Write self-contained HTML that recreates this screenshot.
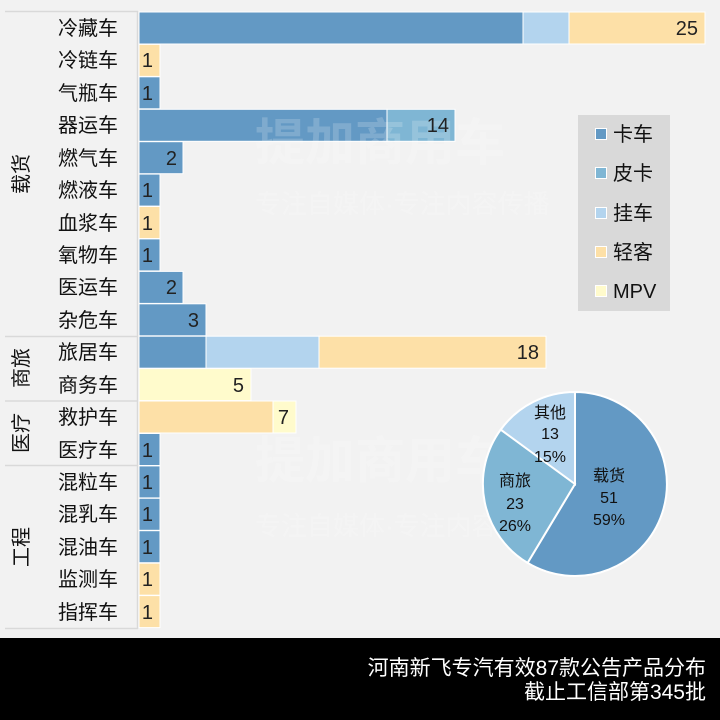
<!DOCTYPE html>
<html><head><meta charset="utf-8"><style>
html,body{margin:0;padding:0;background:#f2f2f2;}
svg{display:block;font-family:"Liberation Sans","Noto Sans CJK SC",sans-serif;}
</style></head><body>
<svg width="720" height="720" viewBox="0 0 720 720" xmlns="http://www.w3.org/2000/svg">
<rect width="720" height="720" fill="#f2f2f2"/>
<g stroke="#d9d9d9" stroke-width="1.5">
<line x1="5" y1="11.5" x2="138" y2="11.5"/>
<line x1="5" y1="336.5" x2="138" y2="336.5"/>
<line x1="5" y1="401" x2="138" y2="401"/>
<line x1="5" y1="465.5" x2="138" y2="465.5"/>
<line x1="5" y1="628.5" x2="138" y2="628.5"/>
<line x1="137.5" y1="11" x2="137.5" y2="629"/>
</g>
<g font-size="20" fill="#111" text-anchor="middle">
<text transform="translate(22,174) rotate(-90)" dominant-baseline="central">载货</text>
<text transform="translate(22,368) rotate(-90)" dominant-baseline="central">商旅</text>
<text transform="translate(22,433) rotate(-90)" dominant-baseline="central">医疗</text>
<text transform="translate(22,547) rotate(-90)" dominant-baseline="central">工程</text>
</g>
<g font-size="20" fill="#111" text-anchor="middle">
<text x="88" y="35">冷藏车</text>
<text x="88" y="67">冷链车</text>
<text x="88" y="100">气瓶车</text>
<text x="88" y="132">器运车</text>
<text x="88" y="165">燃气车</text>
<text x="88" y="197">燃液车</text>
<text x="88" y="230">血浆车</text>
<text x="88" y="262">氧物车</text>
<text x="88" y="294">医运车</text>
<text x="88" y="327">杂危车</text>
<text x="88" y="359">旅居车</text>
<text x="88" y="392">商务车</text>
<text x="88" y="424">救护车</text>
<text x="88" y="457">医疗车</text>
<text x="88" y="489">混粒车</text>
<text x="88" y="521">混乳车</text>
<text x="88" y="554">混油车</text>
<text x="88" y="586">监测车</text>
<text x="88" y="619">指挥车</text>
</g>
<g stroke="#ffffff" stroke-width="1">
<rect x="139" y="12" width="384" height="32" fill="#6399c4"/>
<rect x="523" y="12" width="46" height="32" fill="#b3d4ee"/>
<rect x="569" y="12" width="136" height="32" fill="#fde0a7"/>
<rect x="139" y="44.4" width="21" height="32" fill="#fde0a7"/>
<rect x="139" y="76.8" width="21" height="32" fill="#6399c4"/>
<rect x="139" y="109.3" width="248" height="32" fill="#6399c4"/>
<rect x="387" y="109.3" width="68" height="32" fill="#7fb6d4"/>
<rect x="139" y="141.7" width="44" height="32" fill="#6399c4"/>
<rect x="139" y="174.1" width="21" height="32" fill="#6399c4"/>
<rect x="139" y="206.5" width="21" height="32" fill="#fde0a7"/>
<rect x="139" y="238.9" width="21" height="32" fill="#6399c4"/>
<rect x="139" y="271.4" width="44" height="32" fill="#6399c4"/>
<rect x="139" y="303.8" width="67" height="32" fill="#6399c4"/>
<rect x="139" y="336.2" width="67" height="32" fill="#6399c4"/>
<rect x="206" y="336.2" width="113" height="32" fill="#b3d4ee"/>
<rect x="319" y="336.2" width="227" height="32" fill="#fde0a7"/>
<rect x="139" y="368.6" width="112" height="32" fill="#fffbcc"/>
<rect x="139" y="401" width="134" height="32" fill="#fde0a7"/>
<rect x="273" y="401" width="23" height="32" fill="#fffbcc"/>
<rect x="139" y="433.5" width="21" height="32" fill="#6399c4"/>
<rect x="139" y="465.9" width="21" height="32" fill="#6399c4"/>
<rect x="139" y="498.3" width="21" height="32" fill="#6399c4"/>
<rect x="139" y="530.7" width="21" height="32" fill="#6399c4"/>
<rect x="139" y="563.2" width="21" height="32" fill="#fde0a7"/>
<rect x="139" y="595.6" width="21" height="32" fill="#fde0a7"/>
</g>
<g fill="#ffffff" opacity="0.18" font-weight="bold">
<text x="255" y="160" font-size="50">提加商用车</text>
<text x="255" y="478" font-size="50">提加商用车</text>
</g>
<g fill="#ffffff" opacity="0.2">
<text x="255" y="213" font-size="26">专注自媒体·专注内容传播</text>
<text x="255" y="535" font-size="26">专注自媒体·专注内容传播</text>
</g>
<g font-size="20" fill="#222" text-anchor="end">
<text x="698" y="35">25</text>
<text x="153" y="67">1</text>
<text x="153" y="100">1</text>
<text x="449" y="132">14</text>
<text x="177" y="165">2</text>
<text x="153" y="197">1</text>
<text x="153" y="230">1</text>
<text x="153" y="262">1</text>
<text x="177" y="294">2</text>
<text x="199" y="327">3</text>
<text x="539" y="359">18</text>
<text x="244" y="392">5</text>
<text x="289" y="424">7</text>
<text x="153" y="457">1</text>
<text x="153" y="489">1</text>
<text x="153" y="521">1</text>
<text x="153" y="554">1</text>
<text x="153" y="586">1</text>
<text x="153" y="619">1</text>
</g>
<rect x="578" y="115" width="92" height="196" fill="#d9d9d9"/>
<g stroke="#fff" stroke-width="1">
<rect x="595.5" y="128.5" width="11" height="11" fill="#6399c4"/>
<rect x="595.5" y="167.5" width="11" height="11" fill="#7fb6d4"/>
<rect x="595.5" y="207.5" width="11" height="11" fill="#b3d4ee"/>
<rect x="595.5" y="246.5" width="11" height="11" fill="#fde0a7"/>
<rect x="595.5" y="285.5" width="11" height="11" fill="#fffbcc"/>
</g>
<g font-size="20" fill="#111">
<text x="613" y="141">卡车</text>
<text x="613" y="180">皮卡</text>
<text x="613" y="220">挂车</text>
<text x="613" y="259">轻客</text>
<text x="613" y="298">MPV</text>
</g>
<g stroke="#fff" stroke-width="2">
<path d="M575,484 L575,392 A92,92 0 1,1 527.6,562.9 Z" fill="#6399c4"/>
<path d="M575,484 L527.6,562.9 A92,92 0 0,1 500.7,429.6 Z" fill="#7fb6d4"/>
<path d="M575,484 L500.7,429.6 A92,92 0 0,1 575,392 Z" fill="#b3d4ee"/>
</g>
<g font-size="16" fill="#111" text-anchor="middle">
<text x="550" y="418">其他</text>
<text x="550" y="439">13</text>
<text x="550" y="462">15%</text>
<text x="609" y="481">载货</text>
<text x="609" y="503">51</text>
<text x="609" y="525">59%</text>
<text x="515" y="486">商旅</text>
<text x="515" y="509">23</text>
<text x="515" y="531">26%</text>
</g>
<rect x="0" y="638" width="720" height="82" fill="#000"/>
<g font-size="21" fill="#fff" text-anchor="end">
<text x="706" y="675">河南新飞专汽有效87款公告产品分布</text>
<text x="706" y="699">截止工信部第345批</text>
</g>
</svg>
</body></html>
